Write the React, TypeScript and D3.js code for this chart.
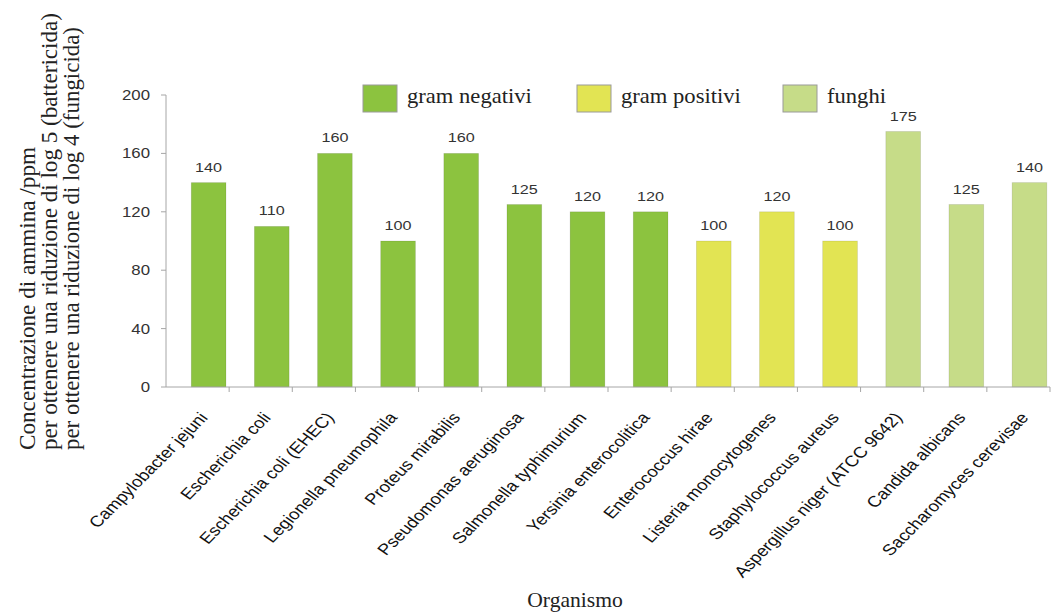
import React from "react";
import * as d3 from "d3";

const organisms = [
  "Campylobacter jejuni",
  "Escherichia coli",
  "Escherichia coli (EHEC)",
  "Legionella pneumophila",
  "Proteus mirabilis",
  "Pseudomonas aeruginosa",
  "Salmonella typhimurium",
  "Yersinia enterocolitica",
  "Enterococcus hirae",
  "Listeria monocytogenes",
  "Staphylococcus aureus",
  "Aspergillus niger (ATCC 9642)",
  "Candida albicans",
  "Saccharomyces cerevisae",
];
const concentrations = [140, 110, 160, 100, 160, 125, 120, 120, 100, 120, 100, 175, 125, 140];
const groups = ["neg", "neg", "neg", "neg", "neg", "neg", "neg", "neg", "pos", "pos", "pos", "fun", "fun", "fun"];
const groupKeys = ["neg", "pos", "fun"];
const groupLabels = ["gram negativi", "gram positivi", "funghi"];
const groupColors = ["#8cc33f", "#e2e453", "#c6dc88"];
const yTicks = [0, 40, 80, 120, 160, 200];
const yTitleLines = [
  "Concentrazione di ammina /ppm",
  "per ottenere una riduzione di log 5 (battericida)",
  "per ottenere una riduzione di log 4 (fungicida)",
];
const xTitle = "Organismo";

const W = 1056;
const H = 616;
const X0 = 166;
const X1 = 1050;
const Y0 = 387;
const Y1 = 95;
const SANS = "'Liberation Sans', Arial, sans-serif";
const SERIF = "'Liberation Serif', 'Times New Roman', serif";
const SX = 1.2;
const yTitleLen = [303, 437, 423];

export default function App() {
  const x = d3.scaleBand<string>().domain(organisms).range([X0, X1]).padding(0);
  const y = d3.scaleLinear().domain([0, 200]).range([Y0, Y1]);
  const color = d3.scaleOrdinal<string, string>().domain(groupKeys).range(groupColors);
  const step = x.step();
  const barOff = step * 0.4;
  const barW = step * 0.55;
  const theta = (Math.atan(SX) * 180) / Math.PI;
  const legendX = [363, 577, 783];

  return (
    <svg width={W} height={H} style={{ position: "absolute", left: 0, top: 0 }}>
      <rect width={W} height={H} fill="#fff" />
      {/* y title */}
      {yTitleLines.map((t, i) => (
        <text
          key={t}
          transform={`translate(${35 + i * 22},450) scale(1.05,1) rotate(-90)`}
          fontFamily={SERIF}
          fontSize={21}
          fill="#222"
          textLength={yTitleLen[i]}
          lengthAdjust="spacingAndGlyphs"
        >
          {t}
        </text>
      ))}
      {/* bars */}
      {organisms.map((o, i) => (
        <rect
          key={o}
          x={(x(o) as number) + barOff}
          y={y(concentrations[i])}
          width={barW}
          height={Y0 - y(concentrations[i])}
          fill={color(groups[i])}
          stroke="rgba(0,0,0,0.12)"
          strokeWidth={0.8}
        />
      ))}
      {/* value labels */}
      {organisms.map((o, i) => (
        <text
          key={o}
          transform={`translate(${(x(o) as number) + barOff + barW / 2},${y(concentrations[i]) - 11}) scale(${SX},1)`}
          textAnchor="middle"
          fontFamily={SANS}
          fontSize={13.5}
          fill="#333"
        >
          {concentrations[i]}
        </text>
      ))}
      {/* y axis */}
      <line x1={X0} x2={X0} y1={Y1} y2={Y0} stroke="#a6a6a6" strokeWidth={1} />
      {yTicks.map((t) => (
        <g key={t}>
          <line x1={X0 - 5} x2={X0} y1={y(t)} y2={y(t)} stroke="#a6a6a6" />
          <text
            transform={`translate(150,${y(t)}) scale(${SX},1)`}
            textAnchor="end"
            dy="0.35em"
            fontFamily={SANS}
            fontSize={14}
            fill="#333"
          >
            {t}
          </text>
        </g>
      ))}
      {/* x axis */}
      <line x1={X0} x2={X1} y1={Y0} y2={Y0} stroke="#a6a6a6" strokeWidth={1} />
      {organisms.map((o) => (
        <line
          key={o}
          x1={(x(o) as number) + step}
          x2={(x(o) as number) + step}
          y1={Y0}
          y2={Y0 + 5}
          stroke="#a6a6a6"
        />
      ))}
      {organisms.map((o) => (
        <text
          key={o}
          transform={`translate(${(x(o) as number) + barOff + barW / 2},418) scale(${SX},1) rotate(${-theta})`}
          textAnchor="end"
          fontFamily={SANS}
          fontSize={15.5}
          fill="#111"
        >
          {o}
        </text>
      ))}
      {/* legend */}
      {groupKeys.map((g, i) => (
        <g key={g}>
          <rect x={legendX[i]} y={85} width={34} height={27} fill={groupColors[i]} stroke="#9a9a9a" strokeWidth={1} />
          <text
            transform={`translate(${legendX[i] + 44},103) scale(1.13,1)`}
            fontFamily={SERIF}
            fontSize={20}
            fill="#222"
          >
            {groupLabels[i]}
          </text>
        </g>
      ))}
      {/* x title */}
      <text
        transform={`translate(575,607) scale(1.08,1)`}
        textAnchor="middle"
        fontFamily={SERIF}
        fontSize={20}
        fill="#222"
      >
        {xTitle}
      </text>
    </svg>
  );
}
